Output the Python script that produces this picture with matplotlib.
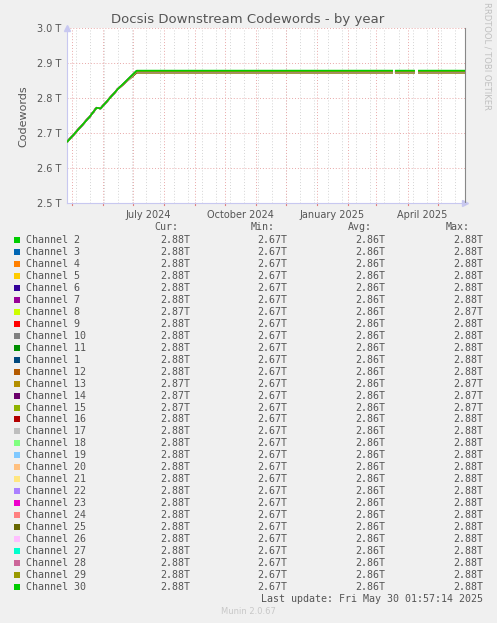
import matplotlib
matplotlib.use("Agg")
import matplotlib.pyplot as plt
import numpy as np
from datetime import datetime, timedelta

# ---- data ----
channels = ["Channel 2", "Channel 3", "Channel 4", "Channel 5", "Channel 6", "Channel 7",
            "Channel 8", "Channel 9", "Channel 10", "Channel 11", "Channel 1", "Channel 12",
            "Channel 13", "Channel 14", "Channel 15", "Channel 16", "Channel 17", "Channel 18",
            "Channel 19", "Channel 20", "Channel 21", "Channel 22", "Channel 23", "Channel 24",
            "Channel 25", "Channel 26", "Channel 27", "Channel 28", "Channel 29", "Channel 30"]
colors = ["#00CC00", "#0066B3", "#FF8000", "#FFCC00", "#330099", "#990099", "#CCFF00",
          "#FF0000", "#808080", "#008F00", "#00487D", "#B35A00", "#B38F00", "#6B006B",
          "#8FB300", "#B30000", "#BEBEBE", "#80FF80", "#80C9FF", "#FFC080", "#FFE680",
          "#AA80FF", "#EE00CC", "#FF8080", "#666600", "#FFBFFF", "#00FFCC", "#CC6699",
          "#999900", "#00CC00"]
cur = ["2.88T", "2.88T", "2.88T", "2.88T", "2.88T", "2.88T", "2.87T", "2.88T", "2.88T", "2.88T",
       "2.88T", "2.88T", "2.87T", "2.87T", "2.87T", "2.88T", "2.88T", "2.88T", "2.88T", "2.88T",
       "2.88T", "2.88T", "2.88T", "2.88T", "2.88T", "2.88T", "2.88T", "2.88T", "2.88T", "2.88T"]
mins = ["2.67T"] * 30
avgs = ["2.86T"] * 30
maxs = ["2.88T", "2.88T", "2.88T", "2.88T", "2.88T", "2.88T", "2.87T", "2.88T", "2.88T", "2.88T",
        "2.88T", "2.88T", "2.87T", "2.87T", "2.87T", "2.88T", "2.88T", "2.88T", "2.88T", "2.88T",
        "2.88T", "2.88T", "2.88T", "2.88T", "2.88T", "2.88T", "2.88T", "2.88T", "2.88T", "2.88T"]

# plateau level of each channel (T)
plateau = [2.879, 2.877, 2.8755, 2.877, 2.877, 2.877, 2.8735, 2.8755, 2.877, 2.877,
           2.877, 2.8755, 2.8735, 2.8735, 2.8735, 2.8755, 2.877, 2.877, 2.877, 2.877,
           2.877, 2.877, 2.877, 2.877, 2.877, 2.877, 2.877, 2.877, 2.877, 2.879]

# common ramp at the start (T)
ramp_dates = [datetime(2024, 4, 26, 12), datetime(2024, 5, 19), datetime(2024, 5, 26),
              datetime(2024, 5, 30), datetime(2024, 6, 16), datetime(2024, 7, 5)]
ramp_vals = [2.675, 2.747, 2.773, 2.771, 2.826]
end_date = datetime(2025, 5, 28, 7)
gaps = [(datetime(2025, 3, 17, 12), datetime(2025, 3, 19, 12)),
        (datetime(2025, 4, 8, 8), datetime(2025, 4, 11, 12))]

xmin = datetime(2024, 4, 26, 12)
xmax = end_date

W, H = 497, 623
fig = plt.figure(figsize=(W / 100, H / 100), dpi=100)
fig.patch.set_facecolor("#F0F0F0")
ax = fig.add_axes([67 / W, 1 - 203.3 / H, (465 - 67) / W, (203.3 - 28.3) / H])
ax.set_facecolor("white")

for i, ch in enumerate(channels):
    xs = list(ramp_dates)
    ys = ramp_vals + [plateau[i]]
    for g0, g1 in gaps:
        mid = g0 + (g1 - g0) / 2
        xs += [g0, mid, g1]
        ys += [plateau[i], np.nan, plateau[i]]
    xs.append(end_date)
    ys.append(plateau[i])
    ax.plot(xs, ys, color=colors[i], lw=1.1, solid_capstyle="butt", zorder=3)

ax.set_xlim(xmin, xmax)
ax.set_ylim(2.5, 3.0)

# grid: red month lines, grey two-week lines
grid_red = "#E8A8A8"
grid_grey = "#D4D4D4"
d = datetime(2024, 5, 5)
while d < xmax:
    ax.axvline(d, color=grid_grey, lw=0.7, ls=(0, (1, 2)), zorder=0)
    d += timedelta(days=14)
months = [datetime(2024 + (4 + k) // 12, (4 + k) % 12 + 1, 1) for k in range(13)]
for m in months:
    ax.axvline(m, color=grid_red, lw=0.7, ls=(0, (1, 2)), zorder=1)
    ax.plot([m, m], [-0.012, 0.0], color="#E08080", lw=0.8,
            transform=ax.get_xaxis_transform(), clip_on=False)
for yv in np.arange(2.6, 3.01, 0.1):
    ax.axhline(yv, color=grid_red, lw=0.7, ls=(0, (1, 2)), zorder=1)

ax.set_yticks(np.arange(2.5, 3.01, 0.1))
ax.set_yticklabels(["%.1f T" % v for v in np.arange(2.5, 3.01, 0.1)])
label_dates = [datetime(2024, 7, 16), datetime(2024, 10, 16), datetime(2025, 1, 16), datetime(2025, 4, 16)]
ax.set_xticks(label_dates)
ax.set_xticklabels(["July 2024", "October 2024", "January 2025", "April 2025"])
ax.tick_params(axis="both", length=0, labelsize=7, colors="#555555", pad=4)
ax.tick_params(axis="x", pad=5)

ax.spines["top"].set_visible(False)
ax.spines["right"].set_color("#888888")
ax.spines["left"].set_color("#C8C8F0")
ax.spines["bottom"].set_color("#C8C8F0")

# arrows at the axis ends
ax.plot([0], [1.0], marker="^", color="#C8C8F0", ms=4, transform=ax.transAxes, clip_on=False)
ax.plot([1.0], [0], marker=">", color="#C8C8F0", ms=4, transform=ax.transAxes, clip_on=False)

ax.set_ylabel("Codewords", fontsize=8, color="#555555", labelpad=6)
fig.text(248 / W, 1 - 19 / H, "Docsis Downstream Codewords - by year", ha="center", va="center",
         fontsize=9.5, color="#555555")
fig.text(487 / W, 1 - 56 / H, "RRDTOOL / TOBI OETIKER", rotation=270, ha="center", va="center",
         fontsize=6, color="#C0C0C0")

# legend table
mono = "DejaVu Sans Mono"
fs = 7.2
tc = "#555555"
fig.text(178 / W, 1 - 227 / H, "Cur:", ha="right", va="center", family=mono, fontsize=fs, color=tc)
fig.text(275 / W, 1 - 227 / H, "Min:", ha="right", va="center", family=mono, fontsize=fs, color=tc)
fig.text(372 / W, 1 - 227 / H, "Avg:", ha="right", va="center", family=mono, fontsize=fs, color=tc)
fig.text(470 / W, 1 - 227 / H, "Max:", ha="right", va="center", family=mono, fontsize=fs, color=tc)
for i, ch in enumerate(channels):
    y = 240 + i * (587 - 240) / 29
    fy = 1 - y / H
    fig.patches.append(plt.Rectangle((14 / W, 1 - (y + 3) / H), 6 / W, 6 / H, transform=fig.transFigure,
                                     facecolor=colors[i], edgecolor="none"))
    fig.text(26 / W, fy, ch, ha="left", va="center", family=mono, fontsize=fs, color=tc)
    fig.text(190 / W, fy, cur[i], ha="right", va="center", family=mono, fontsize=fs, color=tc)
    fig.text(287 / W, fy, mins[i], ha="right", va="center", family=mono, fontsize=fs, color=tc)
    fig.text(385 / W, fy, avgs[i], ha="right", va="center", family=mono, fontsize=fs, color=tc)
    fig.text(483 / W, fy, maxs[i], ha="right", va="center", family=mono, fontsize=fs, color=tc)

fig.text(483 / W, 1 - 599 / H, "Last update: Fri May 30 01:57:14 2025", ha="right", va="center",
         family=mono, fontsize=fs, color=tc)
fig.text(248 / W, 1 - 612 / H, "Munin 2.0.67", ha="center", va="center", fontsize=6, color="#C8C8C8")

fig.savefig("out.png", dpi=100, facecolor=fig.get_facecolor())
